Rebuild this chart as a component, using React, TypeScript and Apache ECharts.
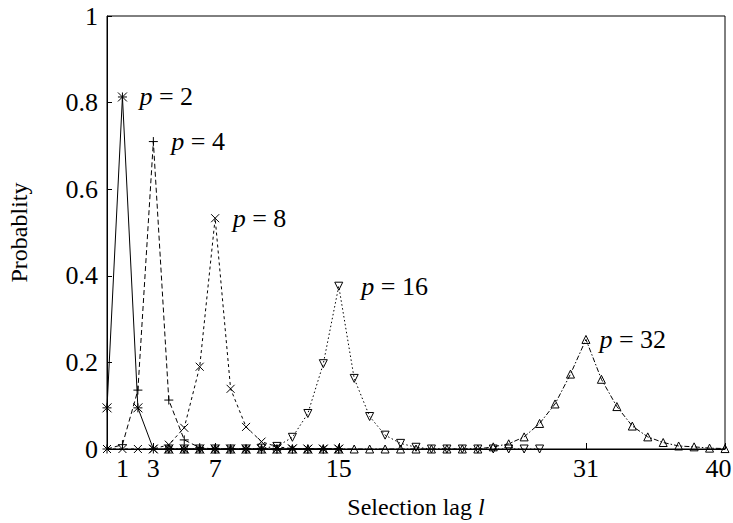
import React, { useEffect, useRef } from "react";
import * as echarts from "echarts";

// Selection lag l for each series starts at these values
const p2Start = 0;
const p4Start = 0;
const p8Start = 0;
const p16Start = 4;
const p32Start = 4;

// Probabilities (index 0 = start lag)
const p2Values = [0.095, 0.813, 0.095, 0, 0, 0, 0, 0, 0, 0, 0, 0, 0, 0, 0, 0];
const p4Values = [0, 0.01, 0.136, 0.71, 0.113, 0.021, 0.003, 0, 0, 0, 0, 0, 0, 0, 0, 0];
const p8Values = [0, 0, 0, 0, 0.01, 0.049, 0.19, 0.533, 0.139, 0.051, 0.017, 0.005, 0.001, 0, 0, 0];
const p16Values = [
  0, 0, 0, 0, 0, 0, 0.002, 0.006, 0.027, 0.082, 0.197, 0.376, 0.163, 0.075, 0.032,
  0.013, 0.004, 0, 0, 0, 0, 0, 0, 0, 0,
];
const p32Values = [
  0, 0, 0, 0, 0, 0, 0, 0, 0, 0, 0, 0, 0, 0, 0, 0, 0, 0, 0, 0, 0, 0.005, 0.012, 0.028,
  0.059, 0.104, 0.173, 0.253, 0.161, 0.098, 0.053, 0.028, 0.015, 0.007, 0.005, 0.002, 0.001,
];

const seriesNames = ["p = 2", "p = 4", "p = 8", "p = 16", "p = 32"];
const peakLabels = ["2", "4", "8", "16", "32"];
const xTickValues = [1, 3, 7, 15, 31, 40];
const yTickValues = [0, 0.2, 0.4, 0.6, 0.8, 1];

const FONT = "Liberation Serif";

const SYM_ASTERISK = "path://M0,0L10,10M10,0L0,10M5,0L5,10M0,5L10,5";
const SYM_PLUS = "path://M0,5L10,5M5,0L5,10";
const SYM_CROSS = "path://M0,0L10,10M10,0L0,10";

function toData(start: number, values: number[], labelText: string, labelDist: number) {
  let peakIdx = 0;
  values.forEach((v, i) => {
    if (v > values[peakIdx]) peakIdx = i;
  });
  return values.map((v, i) => {
    const item: any = { value: [start + i, v] };
    if (i === peakIdx) {
      item.label = {
        show: true,
        position: "right",
        distance: labelDist,
        formatter: "{i|p}{n| = " + labelText + "}",
        fontFamily: FONT,
        fontSize: 26,
        color: "#000",
        rich: {
          i: { fontStyle: "italic", fontFamily: FONT, fontSize: 26, color: "#000" },
          n: { fontFamily: FONT, fontSize: 26, color: "#000" },
        },
      };
    }
    return item;
  });
}

export default function App() {
  const ref = useRef<HTMLDivElement>(null);
  useEffect(() => {
    if (!ref.current) return;
    const chart = echarts.init(ref.current, null, { renderer: "svg" });
    const lineBase = { color: "#000", width: 1 };
    const pathItem = { color: "none", borderColor: "#000", borderWidth: 1 };
    const triItem = { color: "rgba(255,255,255,0)", borderColor: "#000", borderWidth: 1 };
    const specs = [
      { start: p2Start, values: p2Values, sym: SYM_ASTERISK, size: 9, rot: 0, dash: "solid", item: pathItem, dist: 10 },
      { start: p4Start, values: p4Values, sym: SYM_PLUS, size: 9, rot: 0, dash: [5, 3], item: pathItem, dist: 11 },
      { start: p8Start, values: p8Values, sym: SYM_CROSS, size: 8, rot: 0, dash: [3, 3], item: pathItem, dist: 11 },
      { start: p16Start, values: p16Values, sym: "triangle", size: 8, rot: 180, dash: [1.5, 2.5], item: triItem, dist: 18 },
      { start: p32Start, values: p32Values, sym: "triangle", size: 8, rot: 0, dash: [5, 2, 1.5, 2], item: triItem, dist: 9 },
    ];
    const lastTick = xTickValues[xTickValues.length - 1];
    chart.setOption({
      animation: false,
      textStyle: { fontFamily: FONT },
      grid: {
        left: 107,
        right: 8,
        top: 16,
        bottom: 74,
        outerBoundsMode: "none",
        containLabel: false,
        show: true,
        borderColor: "#000",
        borderWidth: 1,
        backgroundColor: "transparent",
      },
      xAxis: {
        type: "value",
        min: 0,
        max: 40,
        name: "{n|Selection lag }{i|l}",
        nameLocation: "middle",
        nameGap: 46,
        nameTextStyle: {
          fontFamily: FONT,
          rich: {
            n: { fontFamily: FONT, fontSize: 24, color: "#000" },
            i: { fontFamily: FONT, fontSize: 24, fontStyle: "italic", color: "#000" },
          },
        },
        axisLine: { lineStyle: { color: "#000", width: 1 } },
        axisTick: { inside: true, length: 6, customValues: xTickValues, lineStyle: { color: "#000" } },
        axisLabel: {
          customValues: xTickValues,
          fontFamily: FONT,
          fontSize: 26,
          color: "#000",
          margin: 6,
          formatter: (v: number) => (v === lastTick ? v + "\u00a0\u00a0" : String(v)),
        },
        splitLine: { show: false },
      },
      yAxis: {
        type: "value",
        min: 0,
        max: 1,
        interval: 0.2,
        name: "Probablity",
        nameLocation: "middle",
        nameGap: 76,
        nameRotate: 90,
        nameTextStyle: { fontFamily: FONT, fontSize: 24, color: "#000" },
        axisLine: { lineStyle: { color: "#000", width: 1 } },
        axisTick: { inside: true, length: 5, customValues: yTickValues, lineStyle: { color: "#000" } },
        axisLabel: { fontFamily: FONT, fontSize: 26, color: "#000", margin: 9 },
        splitLine: { show: false },
      },
      series: specs.map((s, k) => ({
        name: seriesNames[k],
        type: "line",
        data: toData(s.start, s.values, peakLabels[k], s.dist),
        symbol: s.sym,
        symbolSize: s.size,
        symbolRotate: s.rot,
        symbolKeepAspect: true,
        showAllSymbol: true,
        lineStyle: { ...lineBase, type: s.dash },
        itemStyle: s.item,
        clip: false,
        z: 2 + k,
      })),
    });
    return () => chart.dispose();
  }, []);
  return (
    <div
      ref={ref}
      style={{ position: "absolute", left: 0, top: 0, width: 733, height: 523 }}
    />
  );
}
